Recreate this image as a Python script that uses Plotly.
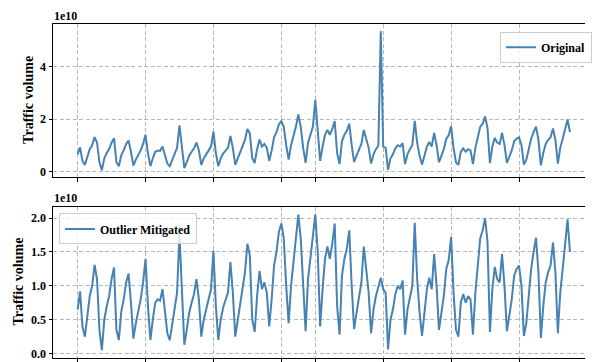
import plotly.graph_objects as go

# Traffic volume in units of 1e10, one value per day (outlier-mitigated series)
mitigated = [
    0.65, 0.92, 0.40, 0.25, 0.55, 0.85, 1.00, 1.31, 1.10, 0.35,
    0.05, 0.50, 0.70, 0.85, 1.10, 1.27, 0.35, 0.20, 0.62, 0.80,
    1.05, 1.18, 0.75, 0.22, 0.45, 0.62, 0.80, 1.05, 1.40, 0.70,
    0.20, 0.50, 0.75, 0.80, 0.78, 0.95, 0.60, 0.30, 0.20, 0.45,
    0.65, 0.90, 1.76, 0.90, 0.13, 0.35, 0.60, 0.75, 0.88, 1.10,
    0.80, 0.25, 0.50, 0.65, 0.78, 0.95, 1.52, 0.70, 0.20, 0.50,
    0.68, 0.78, 0.90, 1.35, 0.90, 0.25, 0.50, 0.75, 0.95, 1.20,
    1.62, 1.45, 0.50, 0.32, 0.85, 1.22, 0.95, 1.05, 0.90, 0.40,
    0.80, 1.30, 1.50, 1.80, 1.92, 1.70, 1.00, 0.45, 1.00, 1.35,
    1.70, 2.05, 1.70, 0.90, 0.33, 1.10, 1.40, 1.70, 2.05, 1.50,
    0.40, 0.95, 1.40, 1.58, 1.40, 1.62, 1.92, 0.70, 0.28, 1.15,
    1.40, 1.55, 1.82, 1.00, 0.36, 0.60, 0.80, 1.05, 1.58, 1.25,
    0.90, 0.30, 0.65, 0.85, 0.98, 1.12, 0.95, 0.90, 0.06, 0.50,
    0.65, 0.88, 1.00, 0.95, 1.08, 0.28, 0.65, 0.85, 1.00, 1.93,
    1.10, 0.60, 0.26, 0.60, 0.95, 1.12, 0.95, 1.47, 1.00, 0.35,
    0.60, 0.85, 1.25, 1.38, 1.72, 0.90, 0.35, 0.25, 0.75, 0.88,
    0.75, 0.85, 0.80, 0.28, 0.90, 1.30, 1.70, 1.82, 2.00, 1.65,
    0.32, 0.95, 1.28, 1.10, 1.05, 1.47, 1.00, 0.33, 0.55, 0.80,
    1.15, 1.25, 1.30, 1.00, 0.26, 0.45, 0.85, 1.25, 1.50, 1.71,
    1.20, 0.23, 0.70, 1.05, 1.20, 1.30, 1.64, 1.20, 0.30, 0.90,
    1.25, 1.60, 1.98, 1.50,
]
# Original values at the days where the outlier mitigation changed them
outliers = {91: 2.17, 98: 2.73, 125: 5.36, 168: 2.10}

days = list(range(len(mitigated)))
original = [outliers.get(d, v) for d, v in zip(days, mitigated)]

tick_days = [0, 28, 56, 84, 98, 126, 154, 182, 210]
top_yticks = [0, 2, 4]
top_yticklabels = ["0", "2", "4"]
bottom_yticks = [0.0, 0.5, 1.0, 1.5, 2.0]
bottom_yticklabels = ["0.0", "0.5", "1.0", "1.5", "2.0"]

COLOR = "#4682B4"
FONT = "'Liberation Serif', 'Times New Roman', 'DejaVu Serif', serif"
GRID = "#b8b8b8"

fig = go.Figure()
fig.add_trace(go.Scatter(x=days, y=original, mode="lines", name="Original",
                         line=dict(color=COLOR, width=2), xaxis="x", yaxis="y",
                         legend="legend"))
fig.add_trace(go.Scatter(x=days, y=mitigated, mode="lines", name="Outlier Mitigated",
                         line=dict(color=COLOR, width=2), xaxis="x2", yaxis="y2",
                         legend="legend2"))

tickfont = dict(family=FONT, size=12, color="black", weight="bold")

xcommon = dict(range=[-10.15, 209.2], tickvals=tick_days, showticklabels=False,
               ticks="outside", ticklen=3.5, tickwidth=1, tickcolor="black",
               showline=True, linecolor="black", linewidth=1, mirror=True,
               showgrid=True, gridcolor=GRID, gridwidth=1, griddash="4px,2.5px",
               zeroline=False, domain=[0, 1])
ycommon = dict(ticks="outside", ticklen=3.5, tickwidth=1, tickcolor="black",
               showline=True, linecolor="black", linewidth=1, mirror=False,
               showgrid=True, gridcolor=GRID, gridwidth=1, griddash="4px,2.5px",
               zeroline=False, tickfont=tickfont, ticklabeloverflow="allow")

fig.update_layout(
    width=592, height=362,
    margin=dict(l=53, r=0, t=24, b=2),
    paper_bgcolor="white", plot_bgcolor="white",
    xaxis=dict(**xcommon, anchor="y"),
    xaxis2=dict(**xcommon, anchor="y2"),
    yaxis=dict(**ycommon, domain=[0.5417, 1.0], range=[-0.2155, 5.6255],
               tickmode="array", tickvals=top_yticks, ticktext=top_yticklabels,
               anchor="x"),
    yaxis2=dict(**ycommon, domain=[0.0, 0.4524], range=[-0.065, 2.165],
                tickmode="array", tickvals=bottom_yticks, ticktext=bottom_yticklabels,
                anchor="x2"),
    legend=dict(x=0.8404, y=0.977, xanchor="left", yanchor="top",
                bgcolor="rgba(255,255,255,0.8)", bordercolor="#cccccc", borderwidth=1,
                font=dict(family=FONT, size=12, color="black", weight="bold")),
    legend2=dict(x=0.0111, y=0.4328, xanchor="left", yanchor="top",
                 bgcolor="rgba(255,255,255,0.8)", bordercolor="#cccccc", borderwidth=1,
                 font=dict(family=FONT, size=12, color="black", weight="bold")),
    showlegend=True,
)

annfont_title = dict(family=FONT, size=14, color="black", weight="bold")
annfont_off = dict(family=FONT, size=12, color="black", weight="bold")
fig.add_annotation(text="Traffic volume", textangle=-90, xref="paper", yref="paper",
                   x=(27.5 - 53) / 539, y=(360 - 100.5) / 336, xanchor="center",
                   yanchor="middle", showarrow=False, font=annfont_title)
fig.add_annotation(text="Traffic volume", textangle=-90, xref="paper", yref="paper",
                   x=(17.7 - 53) / 539, y=(360 - 283) / 336, xanchor="center",
                   yanchor="middle", showarrow=False, font=annfont_title)
fig.add_annotation(text="1e10", xref="paper", yref="paper", x=0, y=(360 - 15.5) / 336,
                   xanchor="left", yanchor="middle", showarrow=False, font=annfont_off,
                   xshift=-1)
fig.add_annotation(text="1e10", xref="paper", yref="paper", x=0, y=(360 - 199) / 336,
                   xanchor="left", yanchor="middle", showarrow=False, font=annfont_off,
                   xshift=-1)

fig.write_html("out.html")
